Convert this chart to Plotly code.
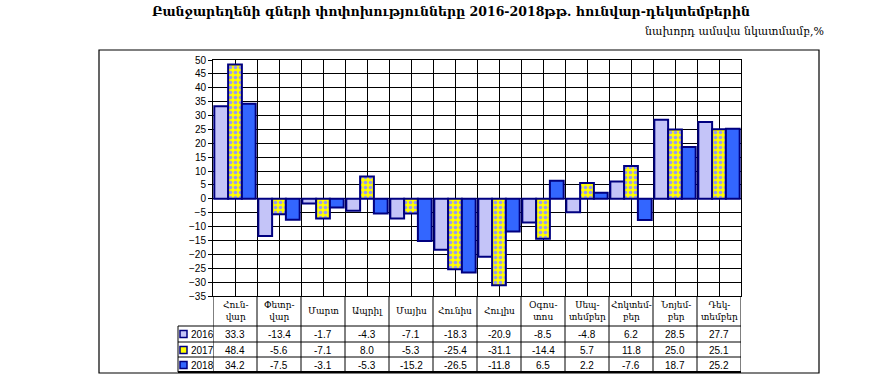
import plotly.graph_objects as go

months = ["Հուն-<br>վար", "Փետր-<br>վար", "Մարտ", "Ապրիլ", "Մայիս", "Հունիս",
          "Հուլիս", "Օգոս-<br>տոս", "Սեպ-<br>տեմբեր", "Հոկտեմ-<br>բեր",
          "Նոյեմ-<br>բեր", "Դեկ-<br>տեմբեր"]
years = ["2016", "2017", "2018"]
v2016 = [33.3, -13.4, -1.7, -4.3, -7.1, -18.3, -20.9, -8.5, -4.8, 6.2, 28.5, 27.7]
v2017 = [48.4, -5.6, -7.1, 8.0, -5.3, -25.4, -31.1, -14.4, 5.7, 11.8, 25.0, 25.1]
v2018 = [34.2, -7.5, -3.1, -5.3, -15.2, -26.5, -11.8, 6.5, 2.2, -7.6, 18.7, 25.2]
series = [v2016, v2017, v2018]

W, H = 896, 378
L, R, T, B = 213, 741, 60, 296
def px(x): return (x - L) / (R - L)
def py(y): return (B - y) / (B - T)

NAVY = "#000080"
colors = ["#C4C4F8", "#FFFF00", "#3366FF"]
xs = list(range(len(months)))

fig = go.Figure()
for i, (yr, vals) in enumerate(zip(years, series)):
    marker = dict(color=colors[i], line=dict(color=NAVY, width=2))
    if i == 1:
        marker["pattern"] = dict(shape=".", bgcolor="#FFFF00", fgcolor="#9A9AF0",
                                 size=5, solidity=0.4, fillmode="replace")
    fig.add_trace(go.Bar(x=xs, y=vals, name=yr, marker=marker, showlegend=False))

ANN_FONT = "DejaVu Serif"
NUM_FONT = "Liberation Sans"
ann = []
ann.append(dict(text="<b>Բանջարեղենի գների փոփոխությունները 2016-2018թթ. հունվար-դեկտեմբերին</b>",
                x=px(451), y=py(11), xref="paper", yref="paper", showarrow=False,
                xanchor="center", yanchor="middle",
                font=dict(family=ANN_FONT, size=12.5, color="black")))
ann.append(dict(text="նախորդ ամսվա նկատմամբ,%",
                x=px(826), y=py(31), xref="paper", yref="paper", showarrow=False,
                xanchor="right", yanchor="middle",
                font=dict(family=ANN_FONT, size=11, color="black")))
for i, m in enumerate(months):
    ann.append(dict(text=m, x=i, y=py(311), xref="x", yref="paper", showarrow=False,
                    xanchor="center", yanchor="middle",
                    font=dict(family=ANN_FONT, size=9, color="black")))
row_y = [334, 350, 365]
for r, (yr, vals) in enumerate(zip(years, series)):
    ann.append(dict(text=yr, x=px(189), y=py(row_y[r]), xref="paper", yref="paper",
                    showarrow=False, xanchor="left", yanchor="middle",
                    font=dict(family=NUM_FONT, size=10, color="black")))
    for i, v in enumerate(vals):
        ann.append(dict(text=f"{v:.1f}", x=i, y=py(row_y[r]), xref="x", yref="paper",
                        showarrow=False, xanchor="center", yanchor="middle",
                        font=dict(family=NUM_FONT, size=10, color="black")))

shapes = []
shapes.append(dict(type="rect", xref="paper", yref="paper", x0=px(99), x1=px(819),
                   y0=py(50), y1=py(373), line=dict(color="black", width=1.2)))
for yy in [326, 342, 357]:
    shapes.append(dict(type="line", xref="paper", yref="paper", x0=px(178), x1=px(741),
                       y0=py(yy), y1=py(yy), line=dict(color="black", width=1)))
shapes.append(dict(type="line", xref="paper", yref="paper", x0=px(178), x1=px(741),
                   y0=py(372), y1=py(372), line=dict(color="black", width=2)))
for b in range(len(months) + 1):
    shapes.append(dict(type="line", xref="x", yref="paper", x0=b - 0.5, x1=b - 0.5,
                       y0=py(296), y1=py(372), line=dict(color="black", width=1)))
shapes.append(dict(type="line", xref="paper", yref="paper", x0=px(178), x1=px(178),
                   y0=py(326), y1=py(372), line=dict(color="black", width=1)))
for r in range(3):
    yc = row_y[r]
    shapes.append(dict(type="rect", xref="paper", yref="paper", x0=px(180), x1=px(187),
                       y0=py(yc - 3.5), y1=py(yc + 3.5), fillcolor=colors[r],
                       line=dict(color=NAVY, width=1.5)))

fig.update_layout(
    width=W, height=H,
    margin=dict(l=L, r=W - R, t=T, b=H - B),
    paper_bgcolor="white", plot_bgcolor="white",
    barmode="group", bargap=0.06, bargroupgap=0,
    annotations=ann, shapes=shapes, hovermode=False,
    xaxis=dict(range=[-0.5, len(months) - 0.5], tick0=-0.5, dtick=0.5,
               showgrid=True, gridcolor="black", gridwidth=1,
               showticklabels=False, ticks="", zeroline=False,
               showline=True, linecolor="black", linewidth=1, mirror=True),
    yaxis=dict(range=[-35, 50], dtick=5, tick0=0,
               showgrid=True, gridcolor="black", gridwidth=1,
               zeroline=True, zerolinecolor="black", zerolinewidth=1,
               ticks="outside", ticklen=4, tickcolor="black",
               tickfont=dict(family=NUM_FONT, size=10, color="black"),
               showline=True, linecolor="black", linewidth=1, mirror=True),
)
fig.write_html("out.html", config={"displayModeBar": False},
               post_script="document.body.style.margin='0';document.body.style.overflow='hidden';")
